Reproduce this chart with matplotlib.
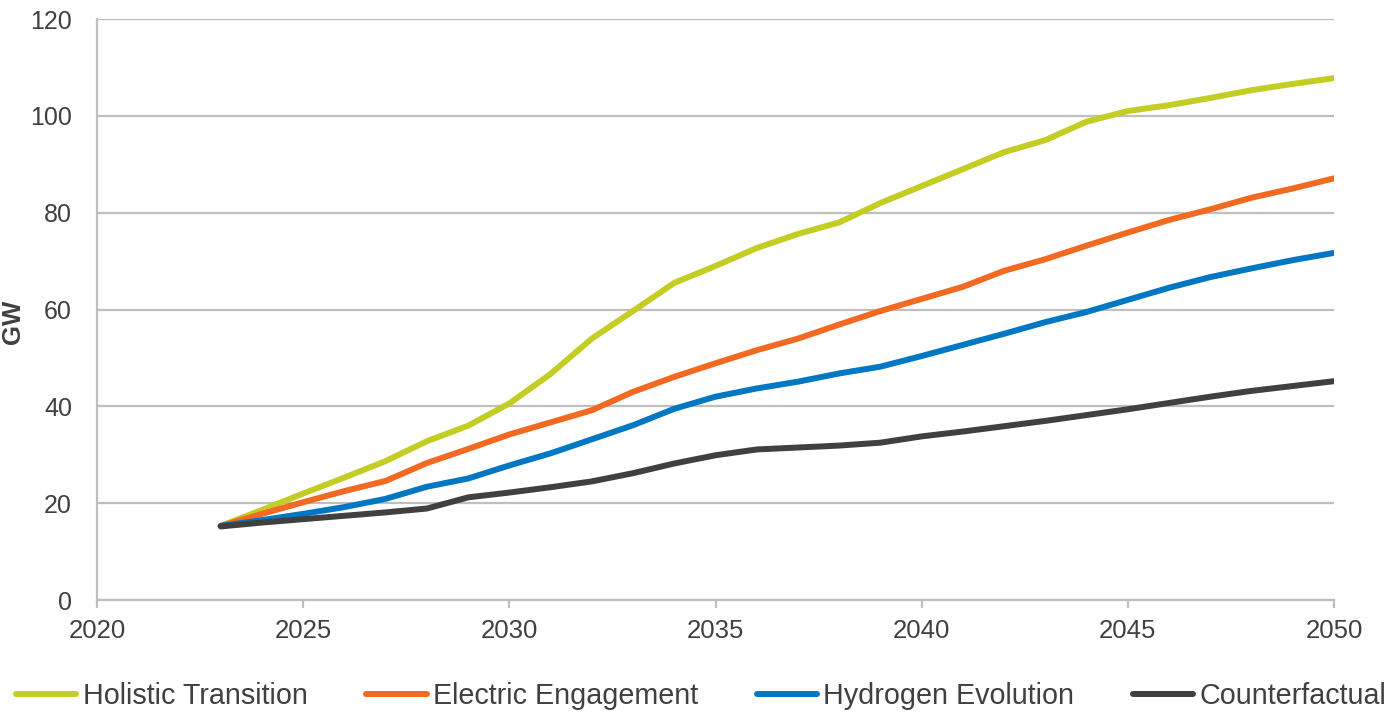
import matplotlib
matplotlib.use("Agg")
import matplotlib.pyplot as plt

years = list(range(2023, 2051))

holistic = [15.3, 18.6, 22.0, 25.3, 28.7, 32.8, 36.0, 40.6, 46.7, 54.0, 59.7, 65.5,
            69.0, 72.7, 75.6, 78.0, 82.0, 85.5, 89.0, 92.5, 95.0, 98.8, 101.0, 102.2,
            103.7, 105.3, 106.6, 107.8]
electric = [15.3, 17.8, 20.2, 22.5, 24.6, 28.3, 31.2, 34.2, 36.7, 39.2, 43.0, 46.1,
            48.9, 51.6, 54.0, 56.9, 59.7, 62.2, 64.7, 68.0, 70.4, 73.2, 75.9, 78.5,
            80.7, 83.1, 85.0, 87.1]
hydrogen = [15.3, 16.5, 17.8, 19.2, 20.9, 23.4, 25.1, 27.8, 30.3, 33.2, 36.1, 39.5,
            42.0, 43.7, 45.1, 46.8, 48.2, 50.4, 52.7, 55.0, 57.4, 59.5, 62.0, 64.5,
            66.7, 68.5, 70.2, 71.7]
counterfactual = [15.2, 16.0, 16.7, 17.4, 18.1, 18.9, 21.2, 22.2, 23.3, 24.5, 26.2, 28.2,
                  29.9, 31.1, 31.5, 31.9, 32.5, 33.8, 34.8, 35.9, 37.0, 38.2, 39.4, 40.7,
                  42.0, 43.2, 44.2, 45.2]

series_names = ["Holistic Transition", "Electric Engagement", "Hydrogen Evolution", "Counterfactual"]
series_values = [holistic, electric, hydrogen, counterfactual]
colors = ["#c3cd23", "#f26a21", "#0077c2", "#404040"]

x_ticks = [2020, 2025, 2030, 2035, 2040, 2045, 2050]
y_ticks = [0, 20, 40, 60, 80, 100, 120]

plt.rcParams['font.family'] = ['Liberation Sans', 'DejaVu Sans']
text_color = "#404040"
grid_color = "#bfbfbf"

fig = plt.figure(figsize=(13.86, 7.15), dpi=100)
ax = fig.add_axes([0.070, 0.1608, 0.8925, 0.8126])

for name, vals, c in zip(series_names, series_values, colors):
    ax.plot(years, vals, color=c, lw=4.3, label=name, solid_capstyle='round',
            solid_joinstyle='round')

ax.set_xlim(2020, 2050)
ax.set_ylim(0, 120)
ax.set_xticks(x_ticks)
ax.set_yticks(y_ticks)
ax.yaxis.grid(True, color=grid_color, lw=1.6)
ax.set_axisbelow(True)
for s in ["top", "right"]:
    ax.spines[s].set_visible(False)
for s in ["left", "bottom"]:
    ax.spines[s].set_color(grid_color)
    ax.spines[s].set_linewidth(1.6)
ax.tick_params(axis='x', colors=text_color, labelsize=18.5, length=6, width=1.6,
               color=grid_color, pad=8)
ax.tick_params(axis='y', colors=text_color, labelsize=18, length=0, pad=18)

fig.text(13 / 1386, 1 - 322 / 715, "GW", rotation=90, ha='center', va='center',
         fontsize=18.5, fontweight='bold', color=text_color)

leg = fig.legend(loc='lower center', ncol=4, bbox_to_anchor=(0.506, -0.029),
                 frameon=False, fontsize=20.7, handlelength=2.1, handletextpad=0.22,
                 columnspacing=2.04)
for t in leg.get_texts():
    t.set_color(text_color)

fig.savefig("out.png", dpi=100)
